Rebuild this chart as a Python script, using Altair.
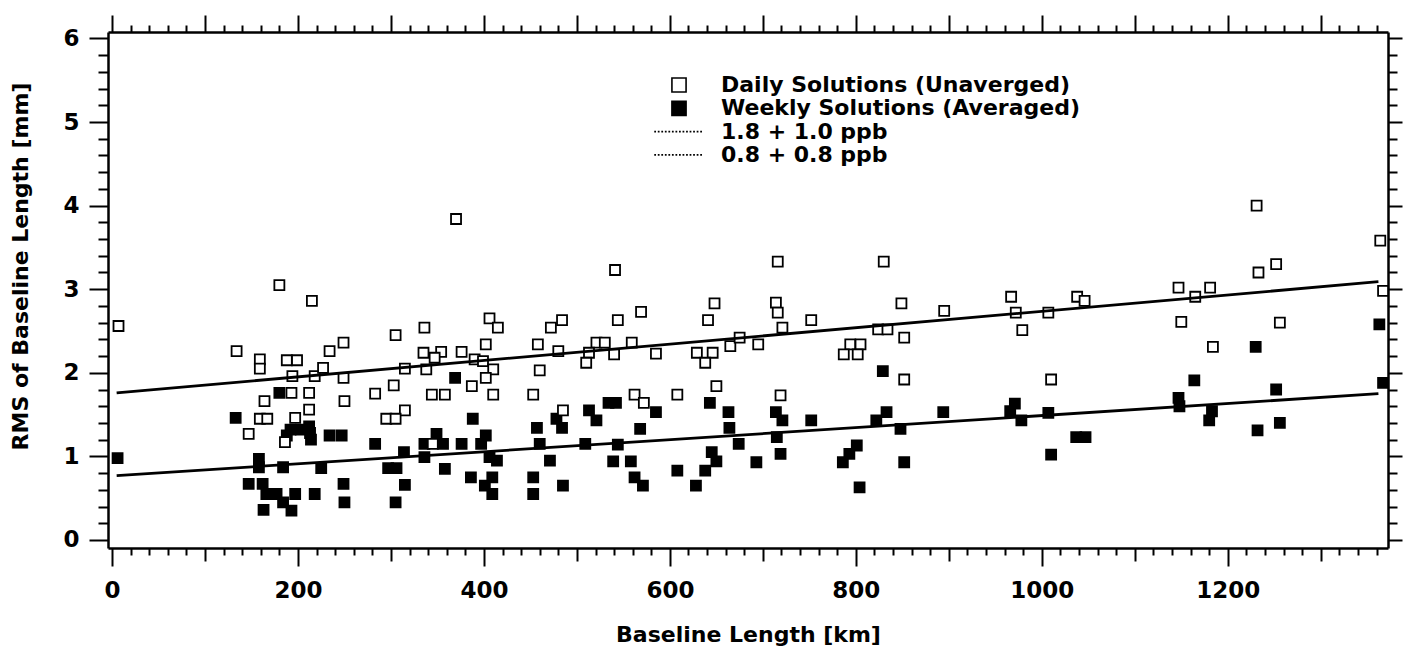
import altair as alt
import pandas as pd

# ---------------- data ----------------
daily_km = [7, 180, 215, 134, 159, 159, 188, 199, 194, 218, 193, 212, 164, 212, 159, 167, 197, 147, 186,
            370, 249, 234, 227, 249, 250, 305, 336, 335, 354, 376, 347, 406, 415, 402, 390, 399, 410, 315,
            338, 402, 387, 303, 283, 344, 358, 410, 315, 295, 305, 345,
            541, 484, 472, 458, 544, 569, 648, 641, 480, 521, 530, 559, 513, 510, 540, 585, 629, 646, 638,
            665, 675, 460, 453, 562, 572, 608, 650, 485,
            716, 830, 714, 716, 752, 849, 895, 721, 695, 824, 834, 852, 794, 805, 787, 802, 852, 719,
            967, 972, 979, 1007, 1038, 1046, 1010,
            1231, 1364, 1252, 1233, 1147, 1181, 1165, 1367, 1150, 1256, 1184]
daily_rms = [2.56, 3.05, 2.86, 2.26, 2.16, 2.05, 2.15, 2.15, 1.96, 1.96, 1.76, 1.76, 1.66, 1.56, 1.45, 1.45, 1.46, 1.27, 1.17,
             3.84, 2.36, 2.26, 2.06, 1.94, 1.66, 2.45, 2.54, 2.24, 2.25, 2.25, 2.18, 2.65, 2.54, 2.34, 2.16, 2.14, 2.04, 2.05,
             2.04, 1.94, 1.84, 1.85, 1.75, 1.74, 1.74, 1.74, 1.55, 1.45, 1.45, 1.15,
             3.23, 2.63, 2.54, 2.34, 2.63, 2.73, 2.83, 2.63, 2.26, 2.36, 2.36, 2.36, 2.24, 2.12, 2.22, 2.23, 2.24, 2.24, 2.12,
             2.32, 2.42, 2.03, 1.74, 1.74, 1.64, 1.74, 1.84, 1.55,
             3.33, 3.33, 2.84, 2.72, 2.63, 2.83, 2.74, 2.54, 2.34, 2.52, 2.52, 2.42, 2.34, 2.34, 2.22, 2.22, 1.92, 1.73,
             2.91, 2.72, 2.51, 2.72, 2.91, 2.86, 1.92,
             4.00, 3.58, 3.30, 3.20, 3.02, 3.02, 2.91, 2.98, 2.61, 2.60, 2.31]

weekly_km = [6, 133, 180, 158, 158, 184, 147, 162, 166, 177, 197, 184, 163, 193, 218,
             188, 192, 203, 212, 214, 213,
             369, 388, 234, 247, 283, 314, 297, 306, 225, 249, 250, 315, 305,
             349, 336, 356, 336, 376, 358, 402, 397, 406, 414, 386, 409, 401, 409,
             534, 542, 513, 521, 478, 484, 457, 585, 568, 643, 663, 664, 674, 460, 509, 544, 471, 539, 558,
             645, 650, 453, 453, 485, 562, 571, 608, 638, 628,
             829, 714, 721, 752, 833, 822, 894, 715, 848, 693, 719, 801, 793, 786, 852, 804,
             971, 966, 978, 1007, 1037, 1047, 1010,
             1363, 1230, 1164, 1252, 1367, 1147, 1148, 1183, 1180, 1256, 1232]
weekly_rms = [0.98, 1.46, 1.76, 0.97, 0.87, 0.87, 0.67, 0.67, 0.55, 0.55, 0.55, 0.45, 0.36, 0.35, 0.55,
              1.25, 1.32, 1.32, 1.36, 1.20, 1.28,
              1.94, 1.45, 1.25, 1.25, 1.15, 1.05, 0.86, 0.86, 0.86, 0.67, 0.45, 0.66, 0.45,
              1.27, 1.15, 1.15, 0.99, 1.15, 0.85, 1.25, 1.15, 0.99, 0.95, 0.75, 0.75, 0.65, 0.55,
              1.64, 1.64, 1.55, 1.43, 1.45, 1.34, 1.34, 1.53, 1.33, 1.64, 1.53, 1.34, 1.15, 1.15, 1.15, 1.14, 0.95, 0.94, 0.94,
              1.05, 0.94, 0.75, 0.55, 0.65, 0.75, 0.65, 0.83, 0.83, 0.65,
              2.02, 1.53, 1.43, 1.43, 1.53, 1.43, 1.53, 1.23, 1.33, 0.93, 1.03, 1.13, 1.03, 0.93, 0.93, 0.63,
              1.63, 1.54, 1.43, 1.52, 1.23, 1.23, 1.02,
              2.58, 2.31, 1.91, 1.80, 1.88, 1.70, 1.60, 1.54, 1.43, 1.40, 1.31]

fit_daily_km = [5, 1362]
fit_daily_rms = [1.76, 3.09]
fit_weekly_km = [5, 1362]
fit_weekly_rms = [0.77, 1.75]

series_names = ["Daily Solutions (Unaverged)", "Weekly Solutions (Averaged)",
                "1.8 + 1.0 ppb", "0.8 + 0.8 ppb"]
x_tick_labels = [0, 200, 400, 600, 800, 1000, 1200]
y_tick_labels = [0, 1, 2, 3, 4, 5, 6]

# ---------------- tables ----------------
pts = pd.concat([
    pd.DataFrame({"km": weekly_km, "rms": weekly_rms, "series": series_names[1]}),
    pd.DataFrame({"km": daily_km, "rms": daily_rms, "series": series_names[0]}),
], ignore_index=True)
pts["order"] = list(range(len(pts)))

fits = pd.concat([
    pd.DataFrame({"km": fit_daily_km, "rms": fit_daily_rms, "series": series_names[2]}),
    pd.DataFrame({"km": fit_weekly_km, "rms": fit_weekly_rms, "series": series_names[3]}),
], ignore_index=True)

FONT = "DejaVu Sans"
x_ticks = list(range(0, 1361, 20))
y_ticks = [round(0.2 * i, 1) for i in range(31)]
x_major_test = " || ".join(f"datum.value === {v}" for v in x_tick_labels)
y_major_test = " || ".join(f"datum.value === {v}" for v in y_tick_labels)

xscale = alt.Scale(domain=[-4.3, 1372.3], nice=False, zero=False)
yscale = alt.Scale(domain=[-0.096, 6.077], nice=False, zero=False)

# dotted legend sample (symbol path)
dot_path = "".join(f"M{-3.5 + 0.5 * i:.2f},0H{-3.5 + 0.5 * i + 0.25:.2f}" for i in range(14))

legend = alt.Legend(orient="none", legendX=560, legendY=42, title=None,
                    symbolSize=200, symbolStrokeWidth=1.6, symbolStrokeColor="black",
                    labelFont=FONT, labelFontSize=22, labelFontWeight="bold", labelColor="black",
                    labelOffset=31, labelLimit=700, rowPadding=1.3, padding=0, symbolOpacity=1)

points = alt.Chart(pts).mark_point(size=100, strokeWidth=1.8, opacity=1).encode(
    x=alt.X("km:Q", scale=xscale,
            axis=alt.Axis(orient="bottom", values=x_ticks, format="d",
                          labelExpr=f"({x_major_test}) ? format(datum.value, 'd') : ''",
                          tickSize={"condition": [{"test": x_major_test, "value": 18},
                                                  {"test": "datum.value % 100 === 0", "value": 13}],
                                    "value": 7},
                          labelPadding=13, labelFlush=False, labelOverlap=False,
                          title="Baseline Length [km]", titlePadding=22)),
    y=alt.Y("rms:Q", scale=yscale,
            axis=alt.Axis(orient="left", values=y_ticks,
                          labelExpr=f"({y_major_test}) ? format(datum.value, 'd') : ''",
                          tickSize={"condition": {"test": y_major_test, "value": 19}, "value": 10},
                          labelPadding=10, labelFlush=False, labelOverlap=False,
                          title="RMS of Baseline Length [mm]", titlePadding=30, titleY=234)),
    shape=alt.Shape("series:N", scale=alt.Scale(domain=series_names,
                                                range=["square", "square", dot_path, dot_path]),
                    legend=legend),
    fill=alt.Fill("series:N", scale=alt.Scale(domain=series_names,
                                              range=["white", "black", "white", "white"]),
                  legend=legend),
    stroke=alt.Stroke("series:N", scale=alt.Scale(domain=series_names,
                                                  range=["black", "black", "black", "black"]),
                      legend=legend),
    order=alt.Order("order:Q"),
)

lines = alt.Chart(fits).mark_line(color="black", strokeWidth=2.8).encode(
    x=alt.X("km:Q", scale=xscale,
            axis=alt.Axis(orient="top", values=x_ticks, labels=False, title=None,
                          tickSize={"condition": {"test": "datum.value % 100 === 0", "value": 17},
                                    "value": 7})),
    y=alt.Y("rms:Q", scale=yscale,
            axis=alt.Axis(orient="right", values=y_ticks, labels=False, title=None,
                          tickSize={"condition": {"test": y_major_test, "value": 14}, "value": 9})),
    detail="series:N",
)

chart = alt.layer(points, lines).properties(
    width=1280, height=516,
    padding={"left": 108, "top": 32, "right": 21, "bottom": 106},
    autosize=alt.AutoSizeParams(type="none"),
    background="white",
).configure_view(stroke="transparent").configure_axis(
    grid=False, domainColor="black", domainWidth=2.5, tickColor="black", tickWidth=2,
    labelFont=FONT, labelFontSize=23, labelFontWeight="bold", labelColor="black",
    titleFont=FONT, titleFontSize=22, titleFontWeight="bold", titleColor="black",
)

chart.save("out.html", embed_options={"renderer": "svg", "actions": False})
